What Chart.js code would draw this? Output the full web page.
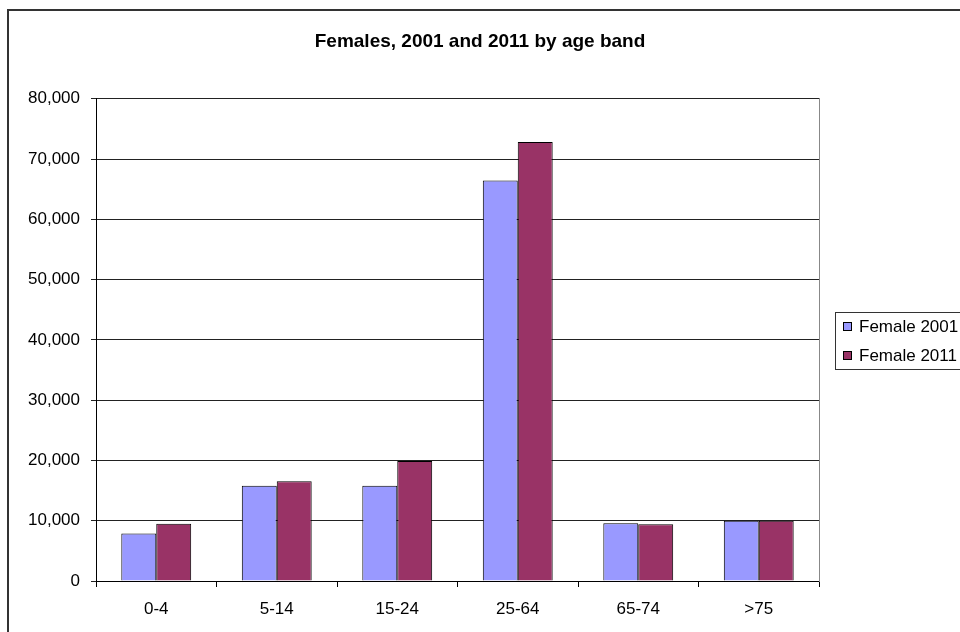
<!DOCTYPE html>
<html>
<head>
<meta charset="utf-8">
<script src="https://cdn.jsdelivr.net/npm/chart.js@4/dist/chart.umd.min.js"></script>
<style>
  html, body { margin: 0; padding: 0; background: #fff; overflow: hidden; }
  #wrap { width: 960px; height: 632px; position: relative; }
</style>
</head>
<body>
<div id="wrap"><canvas id="chart" width="960" height="632"></canvas></div>
<script>
const ageBands = ["0-4", "5-14", "15-24", "25-64", "65-74", ">75"];
const female2001 = [7900, 15800, 15800, 66450, 9600, 10000];
const female2011 = [9500, 16550, 19900, 72850, 9400, 10000];
const seriesNames = ["Female 2001", "Female 2011"];
const seriesColors = ["#9999FF", "#993366"];

const FONT = "'Liberation Sans', Arial, sans-serif";

// white page + outer chart frame
const framePlugin = {
  id: "frame",
  beforeDraw(chart) {
    const ctx = chart.ctx;
    ctx.save();
    ctx.fillStyle = "#fff";
    ctx.fillRect(0, 0, chart.width, chart.height);
    ctx.strokeStyle = "#333";
    ctx.lineWidth = 2;
    ctx.strokeRect(8, 10, 1200, 1200);
    ctx.restore();
  }
};

// excel style legend box on the right
const boxLegend = {
  id: "boxLegend",
  afterDraw(chart) {
    const ctx = chart.ctx;
    ctx.save();
    ctx.strokeStyle = "#333";
    ctx.lineWidth = 1;
    ctx.strokeRect(835.5, 312.5, 200, 57);
    ctx.font = "17px " + FONT;
    ctx.textBaseline = "middle";
    chart.data.datasets.forEach((ds, i) => {
      const cy = 326 + i * 29;
      ctx.fillStyle = ds.backgroundColor;
      ctx.fillRect(843, cy - 4, 8, 8);
      ctx.strokeStyle = "#000";
      ctx.strokeRect(843.5, cy - 3.5, 8, 8);
      ctx.fillStyle = "#000";
      ctx.fillText(ds.label, 859, cy + 1);
    });
    ctx.restore();
  }
};

new Chart(document.getElementById("chart"), {
  type: "bar",
  data: {
    labels: ageBands,
    datasets: [
      { label: seriesNames[0], data: female2001, backgroundColor: seriesColors[0] },
      { label: seriesNames[1], data: female2011, backgroundColor: seriesColors[1] }
    ]
  },
  options: {
    responsive: false,
    animation: false,
    layout: { padding: 0 },
    datasets: {
      bar: {
        borderColor: "#000",
        borderWidth: 1,
        categoryPercentage: 0.58,
        barPercentage: 1.0
      }
    },
    plugins: {
      legend: { display: false },
      tooltip: { enabled: false },
      title: {
        display: true,
        text: "Females, 2001 and 2011 by age band",
        color: "#000",
        font: { family: FONT, size: 19, weight: "bold" },
        padding: { top: 30, bottom: 46 }
      }
    },
    scales: {
      x: {
        grid: { display: true, offset: true, drawOnChartArea: false, tickLength: 6, color: "#000" },
        border: { color: "#000", width: 1 },
        ticks: { color: "#000", font: { family: FONT, size: 17 }, padding: 12, maxRotation: 0 },
        afterFit(scale) { scale.height = 51; }
      },
      y: {
        min: 0,
        max: 80000,
        grid: { color: "#222", tickLength: 5 },
        border: { color: "#000", width: 1 },
        ticks: {
          stepSize: 10000,
          color: "#000",
          padding: 11,
          font: { family: FONT, size: 17 },
          callback: v => v.toLocaleString("en-US")
        },
        afterFit(scale) { scale.width = 96; }
      },
      yRight: {
        position: "right",
        min: 0,
        max: 80000,
        grid: { display: false },
        border: { color: "#888", width: 1 },
        ticks: { display: false },
        afterFit(scale) { scale.width = 141; }
      }
    }
  },
  plugins: [framePlugin, boxLegend]
});
</script>
</body>
</html>
